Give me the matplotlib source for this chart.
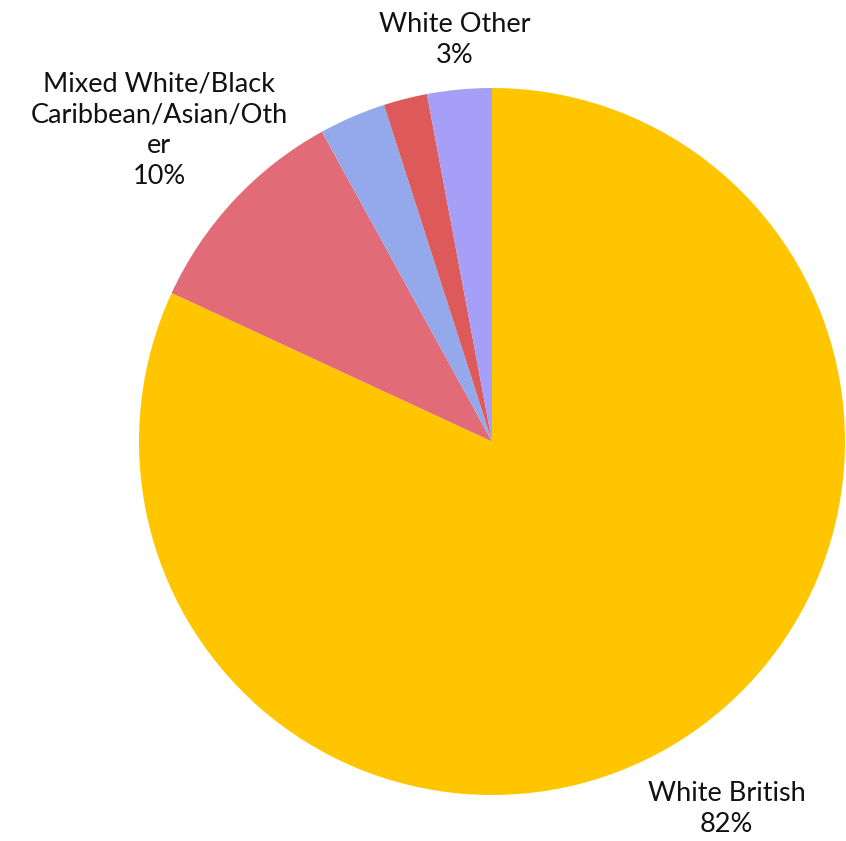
import numpy as np
import matplotlib
matplotlib.use("Agg")
import matplotlib.pyplot as plt

# data (clockwise from 12 o'clock)
groups = ["White British", "Mixed White/Black\nCaribbean/Asian/Oth\ner", "Asian", "Black", "White Other"]
shares = [81.9, 10.1, 3.05, 2.0, 2.95]
show_label = [True, True, False, False, True]
colors = ["#FFC600", "#E26B78", "#93A9EC", "#DE5A5A", "#A59FF8"]
label_dist = [1.235, 1.29, 1.2, 1.2, 1.14]

plt.rcParams['font.family'] = ['Lato', 'DejaVu Sans']

fig = plt.figure(figsize=(8.46, 8.41), dpi=100)
ax = fig.add_axes([139/846, 46/841, 706/846, 707/841])

wedges, _ = ax.pie(shares, colors=colors, startangle=90, counterclock=False,
                   radius=1, wedgeprops=dict(linewidth=0))

for w, name, val, show, d in zip(wedges, groups, shares, show_label, label_dist):
    if not show:
        continue
    mid = np.deg2rad((w.theta1 + w.theta2) / 2)
    ax.text(d*np.cos(mid), d*np.sin(mid), name + "\n" + f"{val:.0f}%",
            ha="center", va="center", fontsize=19.5, linespacing=1.3,
            color="#111111", clip_on=False)

ax.set_xlim(-1, 1)
ax.set_ylim(-1, 1)
ax.set_aspect("auto")
ax.axis("off")

fig.savefig("out.png", dpi=100)
